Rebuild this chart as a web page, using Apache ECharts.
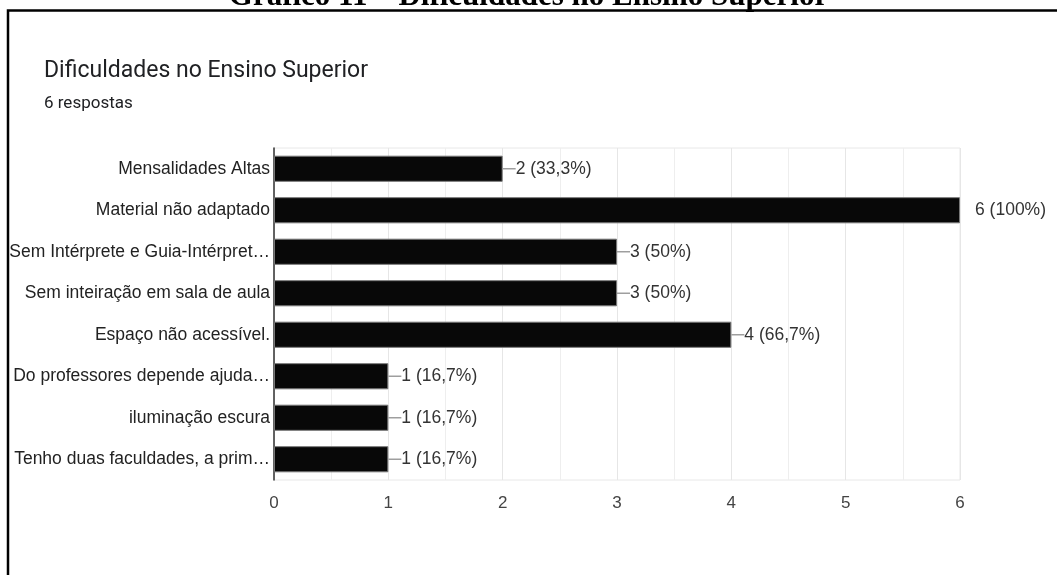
<!DOCTYPE html>
<html>
<head>
<meta charset="utf-8">
<script src="https://cdn.jsdelivr.net/npm/echarts@6/dist/echarts.min.js"></script>
<style>
    html, body { margin: 0; padding: 0; background: #fff; }
    #chart { width: 1057px; height: 575px; }
</style>
</head>
<body>
<div id="chart"></div>
<script>
var categories = [
    'Mensalidades Altas',
    'Material não adaptado',
    'Sem Intérprete e Guia-Intérpret…',
    'Sem inteiração em sala de aula',
    'Espaço não acessível.',
    'Do professores depende ajuda…',
    'iluminação escura',
    'Tenho duas faculdades, a prim…'
];
var counts = [2, 6, 3, 3, 4, 1, 1, 1];
var totalRespostas = 6;
var xTicks = [0, 1, 2, 3, 4, 5, 6];

function pct(v) {
    var p = Math.round(v / totalRespostas * 1000) / 10;
    return String(p).replace('.', ',');
}

var myChart = echarts.init(document.getElementById('chart'));

var barData = counts.map(function (v) {
    var item = { value: v };
    if (v === xTicks[xTicks.length - 1]) {
        // full bar: label sits a bit off the edge, no leader line
        item.label = {
            distance: 15,
            formatter: function (p) {
                return '{t|' + p.value + ' (' + pct(p.value) + '%)}';
            }
        };
    }
    return item;
});

var option = {
    backgroundColor: '#fff',
    animation: false,
    title: {
        text: 'Dificuldades no Ensino Superior',
        subtext: totalRespostas + ' respostas',
        left: 39,
        top: 55,
        itemGap: 12,
        textStyle: {
            fontFamily: 'Roboto',
            fontWeight: 'normal',
            fontSize: 23,
            color: '#202124'
        },
        subtextStyle: {
            fontFamily: 'Roboto',
            fontSize: 17,
            color: '#202124'
        }
    },
    graphic: [
        {
            type: 'text',
            left: 'center',
            top: -19,
            style: {
                text: 'Gráfico 11 – Dificuldades no Ensino Superior',
                font: 'bold 31px "Liberation Serif"',
                fill: '#000'
            }
        },
        {
            type: 'polyline',
            shape: { points: [[8, 575], [8, 10.5], [1057, 10.5]] },
            style: { stroke: '#000', lineWidth: 2.5, fill: null }
        }
    ],
    grid: {
        left: 274,
        right: 97,
        top: 148,
        bottom: 95,
        containLabel: false,
        show: true,
        borderColor: '#e8e8e8',
        borderWidth: 1
    },
    xAxis: {
        type: 'value',
        min: 0,
        max: 6,
        interval: 1,
        axisLine: { show: false },
        axisTick: { show: false },
        axisLabel: {
            margin: 15,
            fontFamily: 'Liberation Sans',
            fontSize: 17,
            color: '#444'
        },
        splitLine: { show: true, lineStyle: { color: '#e6e6e6' } },
        minorTick: { show: false, splitNumber: 2 },
        minorSplitLine: { show: true, lineStyle: { color: '#eeeeee' } }
    },
    yAxis: {
        type: 'category',
        inverse: true,
        data: categories,
        axisLine: { show: true, lineStyle: { color: '#333', width: 1.5 } },
        axisTick: { show: false },
        axisLabel: {
            margin: 4,
            fontFamily: 'Liberation Sans',
            fontSize: 17.5,
            color: '#222'
        }
    },
    series: [
        {
            type: 'bar',
            data: barData,
            barWidth: '63%',
            itemStyle: {
                color: '#080808',
                borderColor: '#777',
                borderWidth: 1
            },
            label: {
                show: true,
                position: 'right',
                distance: 0,
                formatter: function (p) {
                    return '{l|}{t|' + p.value + ' (' + pct(p.value) + '%)}';
                },
                rich: {
                    l: {
                        width: 13,
                        height: 1.5,
                        backgroundColor: '#9e9e9e'
                    },
                    t: {
                        fontFamily: 'Liberation Sans',
                        fontSize: 17.5,
                        color: '#333'
                    }
                }
            }
        }
    ]
};
myChart.setOption(option);
</script>
</body>
</html>
